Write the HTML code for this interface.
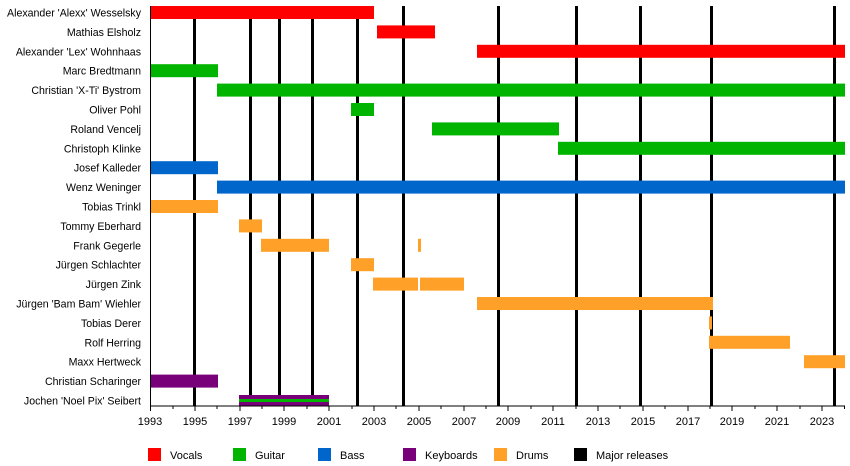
<!DOCTYPE html>
<html><head><meta charset="utf-8"><style>
body{margin:0;background:#fff;}
svg{display:block;font-family:"Liberation Sans",sans-serif;}
</style></head><body>
<svg width="850" height="466" viewBox="0 0 850 466" xmlns="http://www.w3.org/2000/svg">
<g fill="#000">
<rect x="193" y="6" width="3" height="400"/>
<rect x="249" y="6" width="3" height="400"/>
<rect x="278" y="6" width="3" height="400"/>
<rect x="311" y="6" width="3" height="400"/>
<rect x="356" y="6" width="3" height="400"/>
<rect x="402" y="6" width="3" height="400"/>
<rect x="497" y="6" width="3" height="400"/>
<rect x="575" y="6" width="3" height="400"/>
<rect x="639" y="6" width="3" height="400"/>
<rect x="710" y="6" width="3" height="400"/>
<rect x="833" y="6" width="3" height="400"/>
</g>
<g>
<rect x="150" y="6" width="224" height="13" fill="#ff0000"/>
<rect x="377" y="25.4" width="58" height="13" fill="#ff0000"/>
<rect x="477" y="44.8" width="368" height="13" fill="#ff0000"/>
<rect x="150" y="64.2" width="68" height="13" fill="#00b400"/>
<rect x="217" y="83.6" width="628" height="13" fill="#00b400"/>
<rect x="351" y="103" width="23" height="13" fill="#00b400"/>
<rect x="432" y="122.4" width="127" height="13" fill="#00b400"/>
<rect x="558" y="141.8" width="287" height="13" fill="#00b400"/>
<rect x="150" y="161.2" width="68" height="13" fill="#0066cc"/>
<rect x="217" y="180.6" width="628" height="13" fill="#0066cc"/>
<rect x="150" y="200" width="68" height="13" fill="#ffa028"/>
<rect x="239" y="219.4" width="23" height="13" fill="#ffa028"/>
<rect x="261" y="238.8" width="68" height="13" fill="#ffa028"/>
<rect x="418" y="238.8" width="3" height="13" fill="#ffa028"/>
<rect x="351" y="258.2" width="23" height="13" fill="#ffa028"/>
<rect x="373" y="277.6" width="45" height="13" fill="#ffa028"/>
<rect x="420" y="277.6" width="44" height="13" fill="#ffa028"/>
<rect x="477" y="297" width="236" height="13" fill="#ffa028"/>
<rect x="709" y="316.4" width="3" height="13" fill="#ffa028"/>
<rect x="709" y="335.8" width="81" height="13" fill="#ffa028"/>
<rect x="804" y="355.2" width="41" height="13" fill="#ffa028"/>
<rect x="150" y="374.6" width="68" height="13" fill="#780078"/>
<rect x="239" y="395" width="90" height="11" fill="#780078"/>
<rect x="239" y="399" width="90" height="3" fill="#00b400"/>
</g>
<rect x="150" y="6" width="1" height="400" fill="#000"/>
<rect x="150" y="405.5" width="695" height="1" fill="#000"/>
<g stroke="#000" stroke-width="1">
<path d="M150.5 406v5M173 406v3M195 406v5M217 406v3M240 406v5M262 406v3M284 406v5M307 406v3M329 406v5M352 406v3M374 406v5M396 406v3M419 406v5M441 406v3M464 406v5M486 406v3M508 406v5M531 406v3M553 406v5M576 406v3M598 406v5M620 406v3M643 406v5M665 406v3M688 406v5M710 406v3M732 406v5M755 406v3M777 406v5M800 406v3M822 406v5M844.5 406v3"/>
</g>
<g font-size="11" text-anchor="middle" fill="#000">
<text x="150" y="425">1993</text><text x="195" y="425">1995</text><text x="240" y="425">1997</text><text x="284" y="425">1999</text><text x="329" y="425">2001</text><text x="374" y="425">2003</text><text x="419" y="425">2005</text><text x="464" y="425">2007</text><text x="508" y="425">2009</text><text x="553" y="425">2011</text><text x="598" y="425">2013</text><text x="643" y="425">2015</text><text x="688" y="425">2017</text><text x="732" y="425">2019</text><text x="777" y="425">2021</text><text x="822" y="425">2023</text>
</g>
<g font-size="10.6" text-anchor="end" fill="#000">
<text x="141" y="16.5">Alexander 'Alexx' Wesselsky</text>
<text x="141" y="35.9">Mathias Elsholz</text>
<text x="141" y="55.3">Alexander 'Lex' Wohnhaas</text>
<text x="141" y="74.7">Marc Bredtmann</text>
<text x="141" y="94.1">Christian 'X-Ti' Bystrom</text>
<text x="141" y="113.5">Oliver Pohl</text>
<text x="141" y="132.9">Roland Vencelj</text>
<text x="141" y="152.3">Christoph Klinke</text>
<text x="141" y="171.7">Josef Kalleder</text>
<text x="141" y="191.1">Wenz Weninger</text>
<text x="141" y="210.5">Tobias Trinkl</text>
<text x="141" y="229.9">Tommy Eberhard</text>
<text x="141" y="249.3">Frank Gegerle</text>
<text x="141" y="268.7">Jürgen Schlachter</text>
<text x="141" y="288.1">Jürgen Zink</text>
<text x="141" y="307.5">Jürgen 'Bam Bam' Wiehler</text>
<text x="141" y="326.9">Tobias Derer</text>
<text x="141" y="346.3">Rolf Herring</text>
<text x="141" y="365.7">Maxx Hertweck</text>
<text x="141" y="385.1">Christian Scharinger</text>
<text x="141" y="404.5">Jochen 'Noel Pix' Seibert</text>
</g>
<g font-size="11" fill="#000">
<rect x="148" y="448" width="13" height="13" fill="#ff0000"/><text x="170" y="459">Vocals</text>
<rect x="233" y="448" width="13" height="13" fill="#00b400"/><text x="255" y="459">Guitar</text>
<rect x="318" y="448" width="13" height="13" fill="#0066cc"/><text x="340" y="459">Bass</text>
<rect x="403" y="448" width="13" height="13" fill="#780078"/><text x="425" y="459">Keyboards</text>
<rect x="494" y="448" width="13" height="13" fill="#ffa028"/><text x="516" y="459">Drums</text>
<rect x="574" y="448" width="13" height="13" fill="#000"/><text x="596" y="459">Major releases</text>
</g>
</svg>
</body></html>
